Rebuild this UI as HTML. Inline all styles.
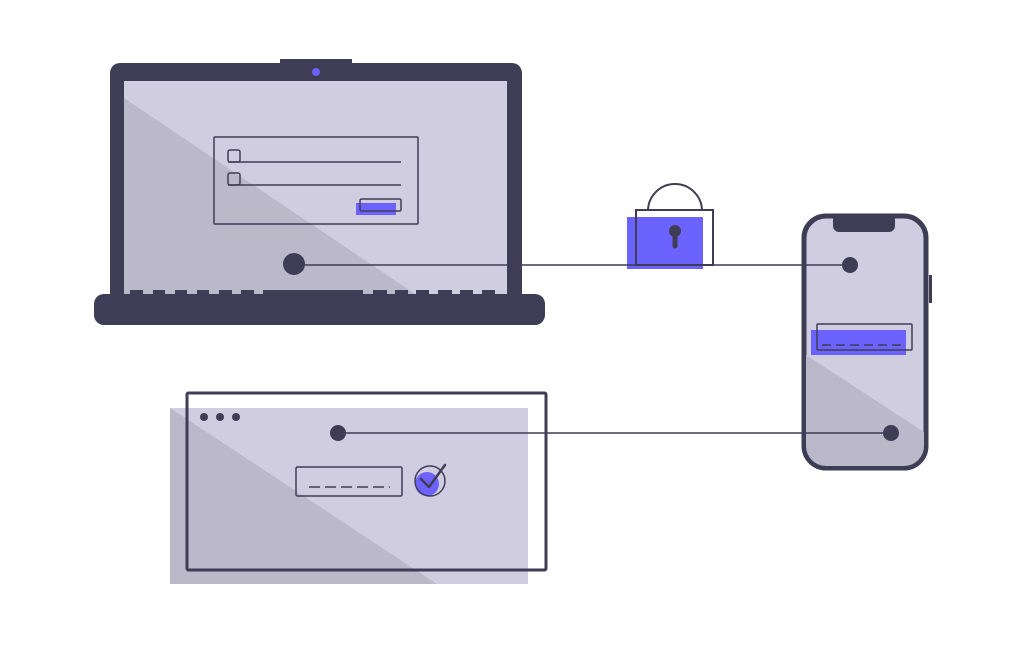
<!DOCTYPE html>
<html><head><meta charset="utf-8"><style>html,body{margin:0;padding:0;background:#fff}svg{display:block}</style></head>
<body>
<svg width="1024" height="646" viewBox="0 0 1024 646" xmlns="http://www.w3.org/2000/svg">
<!-- Laptop -->
<rect x="280" y="59" width="72" height="8" fill="#3f3d56"/>
<rect x="110" y="63" width="412" height="240" rx="10" fill="#3f3d56"/>
<rect x="124" y="81" width="383" height="213" fill="#d0cde1"/>
<polygon points="124,98 415,294 124,294" fill="#bbb8ca"/>
<circle cx="316" cy="72" r="4" fill="#6c63ff"/>
<g fill="#3f3d56">
<rect x="130" y="290" width="13" height="5"/><rect x="153" y="290" width="12" height="5"/><rect x="175" y="290" width="12" height="5"/><rect x="197" y="290" width="12" height="5"/><rect x="219" y="290" width="13" height="5"/><rect x="241" y="290" width="13" height="5"/><rect x="263" y="290" width="100" height="5"/><rect x="373" y="290" width="14" height="5"/><rect x="395" y="290" width="13" height="5"/><rect x="416" y="290" width="13" height="5"/><rect x="438" y="290" width="14" height="5"/><rect x="460" y="290" width="13" height="5"/><rect x="482" y="290" width="13" height="5"/>
</g>
<rect x="94" y="294" width="451" height="31" rx="10" fill="#3f3d56"/>
<!-- form -->
<rect x="214" y="137" width="204" height="87" rx="1" fill="none" stroke="#3f3d56" stroke-width="1.5"/>
<rect x="228" y="150" width="12" height="12" rx="2" fill="none" stroke="#3f3d56" stroke-width="1.5"/>
<rect x="228" y="173" width="12" height="12" rx="2" fill="none" stroke="#3f3d56" stroke-width="1.5"/>
<line x1="228" y1="162" x2="401" y2="162" stroke="#3f3d56" stroke-width="1.5"/>
<line x1="228" y1="185" x2="401" y2="185" stroke="#3f3d56" stroke-width="1.5"/>
<rect x="356" y="203" width="40" height="12" fill="#6c63ff"/>
<rect x="360" y="199" width="41" height="12" rx="1.5" fill="none" stroke="#3f3d56" stroke-width="1.5"/>
<!-- lock -->
<path d="M648 211 A27 27 0 0 1 702 211" fill="none" stroke="#3f3d56" stroke-width="2"/>
<rect x="627" y="217" width="76" height="52" fill="#6c63ff"/>
<rect x="636" y="210" width="77" height="55" fill="none" stroke="#3f3d56" stroke-width="2"/>
<circle cx="675" cy="231" r="6" fill="#3f3d56"/>
<line x1="675" y1="232" x2="675" y2="246" stroke="#3f3d56" stroke-width="5" stroke-linecap="round"/>
<!-- phone -->
<rect x="929" y="275" width="3" height="28" fill="#3f3d56"/>
<rect x="804" y="216" width="122" height="252" rx="22" fill="#d0cde1" stroke="#3f3d56" stroke-width="5"/>
<clipPath id="pc"><rect x="806" y="218" width="118" height="248" rx="20"/></clipPath>
<polygon points="806,355 924,432 924,470 806,470" fill="#bbb8ca" clip-path="url(#pc)"/>
<path d="M833 216 H895 V226 a6 6 0 0 1 -6 6 H839 a6 6 0 0 1 -6 -6 Z" fill="#3f3d56"/>
<rect x="811" y="330" width="95" height="25" fill="#6c63ff"/>
<rect x="817" y="324" width="95" height="26" rx="1" fill="none" stroke="#3f3d56" stroke-width="1.5"/>
<line x1="822" y1="345" x2="902" y2="345" stroke="#3f3d56" stroke-width="1.5" stroke-dasharray="9 5"/>
<!-- browser -->
<rect x="170" y="408" width="358" height="176" fill="#d0cde1"/>
<polygon points="170,408 437,584 170,584" fill="#bbb8ca"/>
<rect x="187" y="393" width="359" height="177" rx="1.5" fill="none" stroke="#3f3d56" stroke-width="3"/>
<circle cx="204" cy="417" r="4" fill="#3f3d56"/><circle cx="220" cy="417" r="4" fill="#3f3d56"/><circle cx="236" cy="417" r="4" fill="#3f3d56"/>
<rect x="296" y="467" width="106" height="29" rx="1.5" fill="none" stroke="#3f3d56" stroke-width="1.5"/>
<line x1="309" y1="487" x2="390" y2="487" stroke="#3f3d56" stroke-width="1.5" stroke-dasharray="11 5"/>
<circle cx="427" cy="484" r="12" fill="#6c63ff"/>
<circle cx="430" cy="481" r="15" fill="none" stroke="#3f3d56" stroke-width="1.5"/>
<polyline points="421,479 429,487 445,465" fill="none" stroke="#3f3d56" stroke-width="2.5" stroke-linecap="round" stroke-linejoin="round"/>
<!-- lines -->
<line x1="294" y1="265" x2="850" y2="265" stroke="#3f3d56" stroke-width="1.5"/>
<circle cx="294" cy="264" r="11" fill="#3f3d56"/>
<circle cx="850" cy="265" r="8" fill="#3f3d56"/>
<line x1="338" y1="433" x2="891" y2="433" stroke="#3f3d56" stroke-width="1.5"/>
<circle cx="338" cy="433" r="8" fill="#3f3d56"/>
<circle cx="891" cy="433" r="8" fill="#3f3d56"/>
</svg>
</body></html>
